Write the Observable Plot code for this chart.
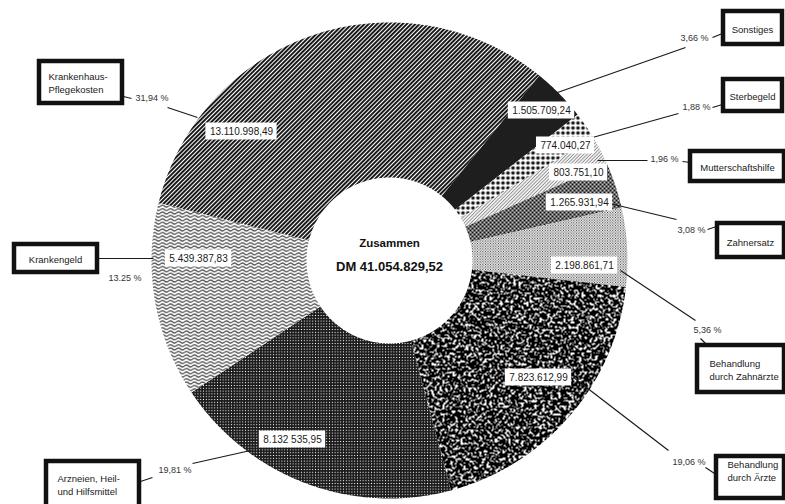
<!DOCTYPE html>
<html><head><meta charset="utf-8">
<script src="https://cdn.jsdelivr.net/npm/d3@7"></script>
<script src="https://cdn.jsdelivr.net/npm/@observablehq/plot@0.6"></script>
<style>body{margin:0;background:#fff}svg{display:block}</style>
</head><body><div id="chart"></div>
<script>
// ---- data ----
const categories = ["Sonstiges","Sterbegeld","Mutterschaftshilfe","Zahnersatz","Behandlung\ndurch Zahnärzte","Behandlung\ndurch Ärzte","Arzneien, Heil-\nund Hilfsmittel","Krankengeld","Krankenhaus-\nPflegekosten"];
const amounts = [1505709.24, 774040.27, 803751.10, 1265931.94, 2198861.71, 7823612.99, 8132535.95, 5439387.83, 13110998.49];
const amountLabels = ["1.505.709,24","774.040,27","803.751,10","1.265.931,94","2.198.861,71","7.823.612,99","8.132 535,95","5.439.387,83","13.110.998,49"];
const percentLabels = ["3,66 %","1,88 %","1,96 %","3,08 %","5,36 %","19,06 %","19,81 %","13.25 %","31,94 %"];
const centerTitle = "Zusammen";
const centerTotal = "DM 41.054.829,52";

// ---- layout ----
const W = 785, H = 504, CX = 389, CY = 260, R_OUT = 238, R_IN = 83, START_DEG = 39;
const valuePos = [[541,110],[565,145],[578,172],[579,202],[584,265],[538,377],[292,439],[198,258],[241,131]];
const boxRect = [[723,11,782,44],[723,79,782,111],[690,151,784,181],[717,223,784,257],[697,345,784,392],[716,456,784,498],[46,461,139,512],[14,244,97,272],[39,61,122,103]];
const boxText = [[752,28,"middle"],[752,95,"middle"],[737,166,"middle"],[750,241,"middle"],[709,369,"start"],[727,470,"start"],[57,484,"start"],[55,258,"middle"],[48,82,"start"]];
const pctPos = [[680,38],[682,107],[650,159],[677,230],[693,330],[672,462],[158,470],[108,278],[135,98]];
const leaderMain = [[557,92,685,47],[592,137,678,113],[597,160,647,160],[597,200,676,219],[620,270,695,320],[573,377,668,450],[250,450,192,463],[98,258,153,258],[197,117,167,107]];
const leaderDash = [[712,37,722,33],[712,107,722,104],[682,161,690,162],[707,229,716,226],[700,338,707,345],[705,467,714,473],[140,481,152,477],null,[123,96,131,98]];

// ---- geometry from data ----
const a0 = START_DEG * Math.PI / 180;
const arcs = d3.pie().sort(null).value(d => d).startAngle(a0).endAngle(a0 + 2 * Math.PI)(amounts);
const sliceRows = arcs.flatMap((a, i) => {
  const n = Math.max(6, Math.ceil((a.endAngle - a.startAngle) / 0.01));
  const pts = [];
  for (let k = 0; k <= n; k++) { const t = a.startAngle + (a.endAngle - a.startAngle) * k / n; pts.push({i, x: CX + R_OUT * Math.sin(t), y: CY - R_OUT * Math.cos(t)}); }
  for (let k = n; k >= 0; k--) { const t = a.startAngle + (a.endAngle - a.startAngle) * k / n; pts.push({i, x: CX + R_IN * Math.sin(t), y: CY - R_IN * Math.cos(t)}); }
  return pts;
});

const ctx = document.createElement("canvas").getContext("2d");
ctx.font = "10px 'Liberation Sans', Arial, sans-serif";
const valueRows = amountLabels.map((s, i) => ({label: s, x: valuePos[i][0], y: valuePos[i][1], w: ctx.measureText(s).width + 8}));
const boxRows = categories.map((c, i) => ({text: c, x1: boxRect[i][0], y1: boxRect[i][1], x2: boxRect[i][2], y2: boxRect[i][3], tx: boxText[i][0], ty: boxText[i][1], anchor: boxText[i][2]}));
const pctRows = percentLabels.map((p, i) => ({text: p, x: pctPos[i][0], y: pctPos[i][1]}));
const linkRows = [...leaderMain, ...leaderDash.filter(d => d)].map(d => ({x1: d[0], y1: d[1], x2: d[2], y2: d[3]}));

const chart = Plot.plot({
  width: W, height: H, margin: 0,
  x: {domain: [0, W], range: [0, W], axis: null},
  y: {domain: [0, H], range: [0, H], axis: null},
  style: {fontFamily: "'Liberation Sans', Arial, sans-serif", background: "#fff", color: "#111"},
  marks: [
    ...categories.map((c, i) => Plot.line(sliceRows.filter(d => d.i === i), {x: "x", y: "y", fill: `url(#pat${i})`, stroke: "none", curve: "linear-closed"})),
    Plot.link(linkRows, {x1: "x1", y1: "y1", x2: "x2", y2: "y2", stroke: "#1a1a1a", strokeWidth: 1.2}),
    Plot.rect(valueRows, {x1: d => d.x - d.w / 2, x2: d => d.x + d.w / 2, y1: d => d.y - 8.5, y2: d => d.y + 8.5, fill: "#fff"}),
    Plot.text(valueRows, {x: "x", y: "y", text: "label", fontSize: 10, fill: "#1a1a1a"}),
    Plot.rect(boxRows, {x1: "x1", x2: "x2", y1: "y1", y2: "y2", fill: "#fff", stroke: "#111", strokeWidth: 4.5}),
    Plot.text(boxRows.filter(d => d.anchor === "middle"), {x: "tx", y: "ty", text: "text", fontSize: 9.5, lineHeight: 1.35, fill: "#1a1a1a"}),
    Plot.text(boxRows.filter(d => d.anchor === "start"), {x: "tx", y: "ty", text: "text", fontSize: 9.5, lineHeight: 1.35, textAnchor: "start", fill: "#1a1a1a"}),
    Plot.text(pctRows, {x: "x", y: "y", text: "text", fontSize: 9, textAnchor: "start", fill: "#333"}),
    Plot.text([centerTitle], {x: () => CX, y: () => CY - 17, text: d => d, fontSize: 11.5, fontWeight: "bold", fill: "#111"}),
    Plot.text([centerTotal], {x: () => CX, y: () => CY + 6, text: d => d, fontSize: 13, fontWeight: "bold", fill: "#111"})
  ]
});

const tv = "0 0 0 0 0 0 0 0 0 0 0 0 1 1 1 1 1 1 1 1 1";
chart.insertAdjacentHTML("afterbegin", `<defs>
<pattern id="pat8" patternUnits="userSpaceOnUse" width="3" height="3" patternTransform="rotate(-45)"><rect width="3" height="3" fill="#fff"/><rect width="3" height="1.95" fill="#151515"/></pattern>
<pattern id="pat0" patternUnits="userSpaceOnUse" width="4" height="4"><rect width="4" height="4" fill="#1e1e1e"/></pattern>
<pattern id="pat1" patternUnits="userSpaceOnUse" width="5" height="5"><rect width="5" height="5" fill="#fff"/><circle cx="2.5" cy="2.5" r="1.8" fill="#111"/></pattern>
<pattern id="pat2" patternUnits="userSpaceOnUse" width="2.4" height="2.4" patternTransform="rotate(-45)"><rect width="2.4" height="2.4" fill="#f0f0f0"/><rect width="2.4" height="0.8" fill="#8c8c8c"/></pattern>
<pattern id="pat3" patternUnits="userSpaceOnUse" width="4" height="4"><rect width="4" height="4" fill="#fff"/><circle cx="0" cy="0" r="1.3" fill="#111"/><circle cx="4" cy="0" r="1.3" fill="#111"/><circle cx="0" cy="4" r="1.3" fill="#111"/><circle cx="4" cy="4" r="1.3" fill="#111"/><circle cx="2" cy="2" r="1.3" fill="#111"/></pattern>
<pattern id="pat4" patternUnits="userSpaceOnUse" width="2.6" height="2.6"><rect width="2.6" height="2.6" fill="#fff"/><circle cx="0" cy="0" r="0.55" fill="#222"/><circle cx="2.6" cy="0" r="0.55" fill="#222"/><circle cx="0" cy="2.6" r="0.55" fill="#222"/><circle cx="2.6" cy="2.6" r="0.55" fill="#222"/><circle cx="1.3" cy="1.3" r="0.55" fill="#222"/></pattern>
<filter id="noiseF" filterUnits="userSpaceOnUse" x="0" y="0" width="${W}" height="${H}" color-interpolation-filters="sRGB">
<feTurbulence type="fractalNoise" baseFrequency="0.38" numOctaves="3" seed="7"/>
<feColorMatrix type="matrix" values="1 0 0 0 0 1 0 0 0 0 1 0 0 0 0 0 0 0 0 1"/>
<feComponentTransfer><feFuncR type="discrete" tableValues="${tv}"/><feFuncG type="discrete" tableValues="${tv}"/><feFuncB type="discrete" tableValues="${tv}"/></feComponentTransfer>
</filter>
<pattern id="pat5" patternUnits="userSpaceOnUse" width="${W}" height="${H}"><rect width="${W}" height="${H}" fill="#000" filter="url(#noiseF)"/></pattern>
<pattern id="pat6" patternUnits="userSpaceOnUse" width="2.8" height="2.8"><rect width="2.8" height="2.8" fill="#1c1c1c"/><rect x="0.9" y="0.9" width="1" height="1" fill="#fff"/></pattern>
<pattern id="pat7" patternUnits="userSpaceOnUse" width="8" height="3.4"><rect width="8" height="3.4" fill="#fff"/><path d="M0,1.7 C1.3,0.4 2.7,0.4 4,1.7 S6.7,3 8,1.7" fill="none" stroke="#2a2a2a" stroke-width="0.95"/></pattern>
</defs>`);
document.getElementById("chart").appendChild(chart);
</script>
</body></html>
